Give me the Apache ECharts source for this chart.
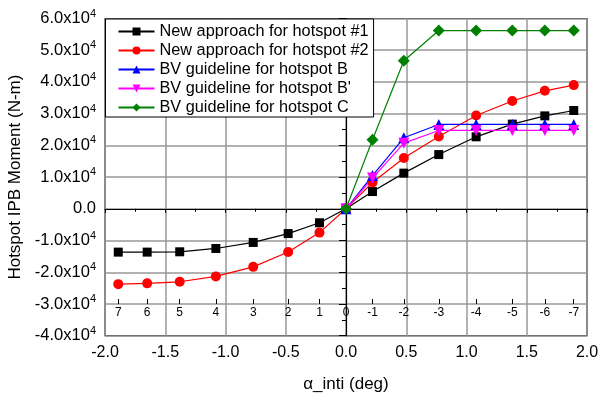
<!DOCTYPE html>
<html>
<head>
<meta charset="utf-8">
<script src="https://cdn.jsdelivr.net/npm/echarts@6/dist/echarts.min.js"></script>
<style>
  html, body { margin: 0; padding: 0; background: #fff; }
  #chart { width: 598px; height: 394px; }
</style>
</head>
<body>
<div id="chart"></div>
<script>
// alpha_inti positions (deg)
var xsNeg = [-1.89, -1.65, -1.38, -1.08, -0.77, -0.48, -0.22, 0];
var xsPos = [0, 0.22, 0.48, 0.77, 1.08, 1.38, 1.65, 1.89];
var xsAll = xsNeg.concat(xsPos.slice(1));
var sideLabels = ["7", "6", "5", "4", "3", "2", "1", "0", "-1", "-2", "-3", "-4", "-5", "-6", "-7"];

// moments in N-m
var newApproach1 = [-13650, -13650, -13550, -12500, -10600, -7800, -4400, 0, 5450, 11250, 17100, 22700, 26700, 29300, 31000];
var newApproach2 = [-23750, -23500, -23000, -21300, -18300, -13600, -7500, 0, 8300, 16000, 22800, 29400, 34000, 37200, 39000];
var bvB = [0, 10500, 22400, 26600, 26600, 26600, 26600, 26600];
var bvBp = [0, 9700, 20700, 24700, 24700, 24700, 24700, 24700];
var bvC = [0, 21800, 46700, 56200, 56200, 56200, 56200, 56200];

var seriesNames = [
  "New approach for hotspot #1",
  "New approach for hotspot #2",
  "BV guideline for hotspot B",
  "BV guideline for hotspot B'",
  "BV guideline for hotspot C"
];

function pairs(xs, ys) {
  return xs.map(function (x, i) { return [x, ys[i]]; });
}

var font = "Liberation Sans, Arial, sans-serif";
var chart = echarts.init(document.getElementById("chart"));

function mkLine(name, data, color, symbol, size, rot) {
  return {
    name: name,
    type: "line",
    data: data,
    symbol: symbol,
    symbolSize: size,
    symbolRotate: rot || 0,
    itemStyle: { color: color },
    lineStyle: { color: color, width: 1.2 },
    z: 3
  };
}

chart.setOption({
  animation: false,
  textStyle: { fontFamily: font },
  grid: {
    left: 105, right: 11, top: 18.5, bottom: 58.3,
    outerBoundsMode: "none",
    show: true, borderColor: "#000", borderWidth: 1.2
  },
  legend: {
    data: seriesNames,
    orient: "vertical",
    left: 105.5,
    top: 19,
    backgroundColor: "#fff",
    borderColor: "#000",
    borderWidth: 1,
    borderRadius: 0,
    padding: [4, 5, 1, 12],
    itemGap: 2,
    itemWidth: 36,
    itemHeight: 10,
    textStyle: { fontFamily: font, fontSize: 16.3, color: "#000", lineHeight: 17 }
  },
  xAxis: [
    {
      type: "value",
      min: -2, max: 2, interval: 0.5,
      name: "α_inti (deg)",
      nameLocation: "middle",
      nameGap: 40,
      nameTextStyle: { fontSize: 17, color: "#000" },
      axisLine: { lineStyle: { color: "#000", width: 1.2 } },
      axisTick: { length: 4, lineStyle: { color: "#000" } },
      minorTick: { show: true, splitNumber: 2, length: 3, lineStyle: { color: "#000" } },
      axisLabel: {
        fontSize: 16, color: "#000", margin: 9,
        formatter: function (v) { return v.toFixed(1); }
      },
      splitLine: { show: true, lineStyle: { color: "#999", width: 1.5 } }
    },
    {
      type: "value",
      min: -2, max: 2,
      position: "bottom",
      offset: -31.7,
      axisLine: { show: false },
      axisTick: {
        show: true, inside: true, length: 5,
        customValues: xsAll,
        lineStyle: { color: "#000" }
      },
      axisLabel: {
        fontSize: 12, color: "#000", margin: 3,
        customValues: xsAll,
        formatter: function (v) {
          var i = xsAll.indexOf(v);
          return i >= 0 ? sideLabels[i] : "";
        }
      },
      splitLine: { show: false }
    }
  ],
  yAxis: {
    type: "value",
    min: -40000, max: 60000, interval: 10000,
    name: "Hotspot IPB Moment (N-m)",
    nameLocation: "middle",
    nameGap: 81,
    nameTextStyle: { fontSize: 17, color: "#000" },
    axisLine: { lineStyle: { color: "#000", width: 1.2 } },
    axisTick: { length: 7, lineStyle: { color: "#000" } },
    minorTick: { show: true, splitNumber: 2, length: 4, lineStyle: { color: "#000" } },
    axisLabel: {
      color: "#000", margin: 9,
      formatter: function (v) {
        if (v === 0) return "{n|0.0}";
        return "{n|" + (v / 10000).toFixed(1) + "x10}{s|4}";
      },
      rich: {
        n: { fontSize: 16.5, color: "#000", fontFamily: font },
        s: { fontSize: 11, color: "#000", fontFamily: font, padding: [0, 0, 10, 0] }
      }
    },
    splitLine: { show: true, lineStyle: { color: "#999", width: 1.5 } }
  },
  series: [
    mkLine(seriesNames[0], pairs(xsAll, newApproach1), "#000", "rect", 9),
    mkLine(seriesNames[1], pairs(xsAll, newApproach2), "#ff0000", "circle", 10),
    mkLine(seriesNames[2], pairs(xsPos, bvB), "#0000ff", "triangle", 11),
    mkLine(seriesNames[3], pairs(xsPos, bvBp), "#ff00ff", "triangle", 11, 180),
    mkLine(seriesNames[4], pairs(xsPos, bvC), "#008000", "diamond", 12)
  ]
});
</script>
</body>
</html>
